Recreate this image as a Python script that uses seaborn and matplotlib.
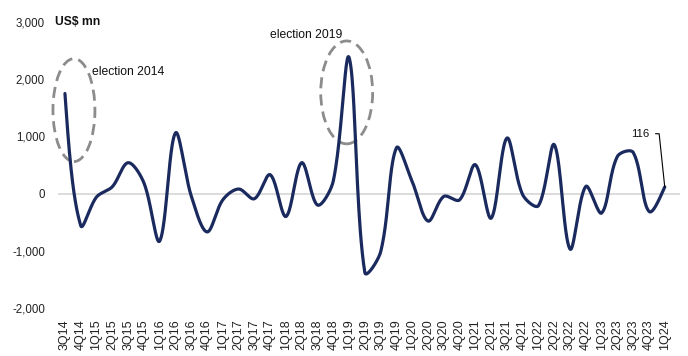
import numpy as np
import pandas as pd
import matplotlib
matplotlib.use("Agg")
import matplotlib.pyplot as plt
import seaborn as sns
from matplotlib.patches import Ellipse

quarters = ["3Q14", "4Q14",
            "1Q15", "2Q15", "3Q15", "4Q15",
            "1Q16", "2Q16", "3Q16", "4Q16",
            "1Q17", "2Q17", "3Q17", "4Q17",
            "1Q18", "2Q18", "3Q18", "4Q18",
            "1Q19", "2Q19", "3Q19", "4Q19",
            "1Q20", "2Q20", "3Q20", "4Q20",
            "1Q21", "2Q21", "3Q21", "4Q21",
            "1Q22", "2Q22", "3Q22", "4Q22",
            "1Q23", "2Q23", "3Q23", "4Q23",
            "1Q24"]
flows = [1750, -560,
         -60, 120, 540, 190,
         -830, 1060, -40, -670,
         -110, 80, -90, 330,
         -400, 540, -200, 220,
         2380, -1380, -1020, 800,
         210, -480, -50, -110,
         505, -430, 970, -20,
         -210, 855, -970, 125,
         -340, 650, 720, -310,
         116]
y_ticks = [-2000, -1000, 0, 1000, 2000, 3000]
y_ticklabels = ["-2,000", "-1,000", "0", "1,000", "2,000", "3,000"]

sns.set_theme(style="white")
plt.rcParams["font.family"] = ["Liberation Sans", "DejaVu Sans"]

# smoothed line: chord-length weighted cubic Bezier (spreadsheet-style smoothing)
x = np.arange(len(flows), dtype=float)
y = np.asarray(flows, dtype=float)
sx, sy = 15.8, 0.0573          # screen scale, px per data unit
tension = 1.0 / 3.0
n = len(x)
cl = np.zeros((n, 2)); cr = np.zeros((n, 2))
P = np.column_stack([x, y])
for i in range(n):
    if 0 < i < n - 1:
        dp = np.hypot((x[i] - x[i - 1]) * sx, (y[i] - y[i - 1]) * sy)
        dn = np.hypot((x[i + 1] - x[i]) * sx, (y[i + 1] - y[i]) * sy)
        T = P[i + 1] - P[i - 1]
        cl[i] = P[i] - tension * dp / (dp + dn) * T
        cr[i] = P[i] + tension * dn / (dp + dn) * T
cr[0] = P[0] + (cl[1] - P[0]) / 2.0
cl[-1] = P[-1] + (cr[-2] - P[-1]) / 2.0
xs, ys = [], []
t = np.linspace(0, 1, 40, endpoint=False)[:, None]
for i in range(n - 1):
    b = ((1 - t) ** 3 * P[i] + 3 * (1 - t) ** 2 * t * cr[i]
         + 3 * (1 - t) * t ** 2 * cl[i + 1] + t ** 3 * P[i + 1])
    xs.extend(b[:, 0]); ys.extend(b[:, 1])
xs.append(x[-1]); ys.append(y[-1])
df = pd.DataFrame({"pos": xs, "value": ys})

fig = plt.figure(figsize=(6.88, 3.56), dpi=100)
ax = fig.add_axes([0.0843, 0.135, 0.9037, 0.803])

ax.axhline(0, color="#d9d9d9", lw=1.3, zorder=1)
sns.lineplot(data=df, x="pos", y="value", sort=False, color="#1a2a5e", lw=2.3, ax=ax, zorder=3)

ax.set_xlim(-0.44, 38.95)
ax.set_ylim(-2000, 3000)
ax.set_xticks(range(len(quarters)))
ax.set_xticklabels(quarters, rotation=90, fontsize=9, color="#222222")
ax.set_yticks(y_ticks)
ax.set_yticklabels(y_ticklabels, fontsize=8.3, color="#222222")
ax.tick_params(axis="x", length=0, pad=8.5)
ax.tick_params(axis="y", length=0, pad=9.4)
ax.set_xlabel("")
ax.set_ylabel("")
for s in ax.spines.values():
    s.set_visible(False)
ax.grid(False)

ax.text(-0.63, 3000, "US$ mn", fontsize=8.7, fontweight="bold",
        va="center", ha="left", color="#111111")

# election ellipses
ax.add_patch(Ellipse((0.57, 1460), 2.66, 1800, fill=False, ec="#8c8c8c", lw=2.0,
                     ls=(0, (4, 2.2)), zorder=2, clip_on=False))
ax.add_patch(Ellipse((17.85, 1770), 3.29, 1800, fill=False, ec="#8c8c8c", lw=2.0,
                     ls=(0, (4, 2.2)), zorder=2, clip_on=False))
ax.text(1.71, 2130, "election 2014", fontsize=8.7, ha="left", va="center", color="#111111")
ax.text(12.97, 2775, "election 2019", fontsize=8.7, ha="left", va="center", color="#111111")

# last value label with leader line
ax.annotate("116", xy=(38, flows[-1]), xytext=(37.03, 1047), fontsize=8.2,
            ha="right", va="center", color="#111111",
            arrowprops=dict(arrowstyle="-", color="black", lw=0.8,
                            connectionstyle="angle,angleA=0,angleB=96,rad=0",
                            shrinkA=2, shrinkB=0))

fig.savefig("out.png", dpi=100)
